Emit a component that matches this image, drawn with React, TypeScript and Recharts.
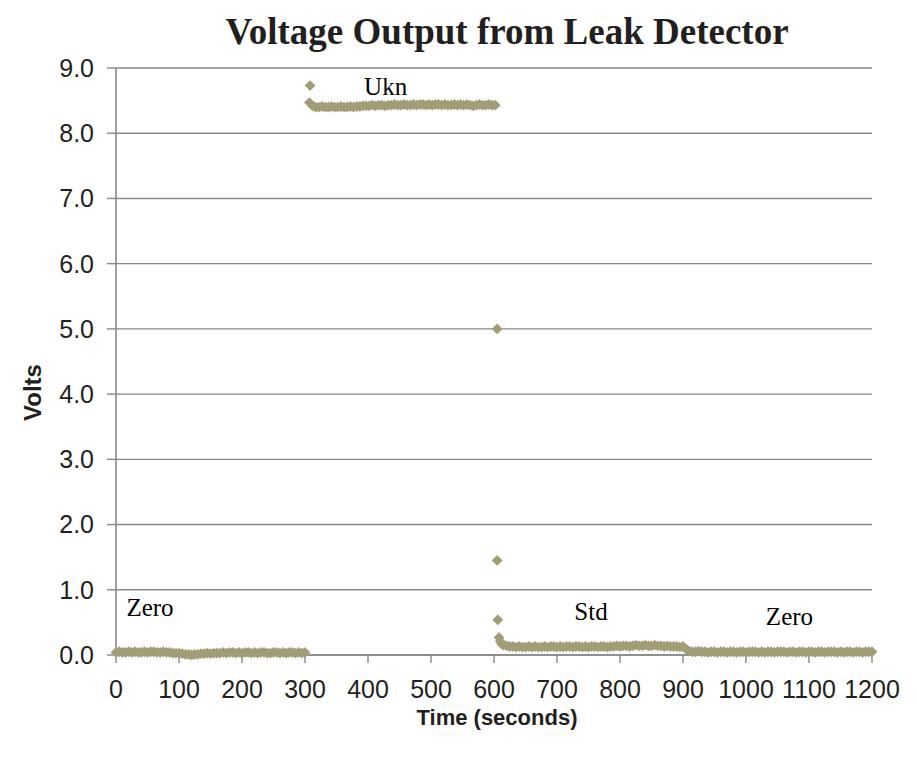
import React from 'react';
import { ScatterChart, Scatter, XAxis, YAxis, CartesianGrid } from 'recharts';

// sampling interval (s) of the logged readings
const SAMPLE_STEP = 5;

// first zero gas run, 0 - 300 s
const ZERO_A_START = 0;
const zeroA = [
  0.04, 0.05, 0.04, 0.04, 0.05, 0.04, 0.05, 0.04, 0.04, 0.05,
  0.04, 0.05, 0.05, 0.04, 0.04, 0.05, 0.04, 0.04, 0.03, 0.03,
  0.03, 0.02, 0.01, 0.01, 0.0, 0.01, 0.01, 0.02, 0.02, 0.03,
  0.02, 0.03, 0.03, 0.03, 0.04, 0.03, 0.04, 0.04, 0.03, 0.04,
  0.03, 0.04, 0.04, 0.03, 0.04, 0.03, 0.04, 0.04, 0.03, 0.03,
  0.04, 0.04, 0.03, 0.04, 0.03, 0.04, 0.04, 0.03, 0.04, 0.03,
  0.04,
];

// unknown sample, ~307 - 602 s
const UKN_START = 307;
const ukn = [
  8.47, 8.42, 8.40, 8.40, 8.41, 8.40, 8.40, 8.41, 8.40, 8.40,
  8.41, 8.40, 8.40, 8.41, 8.40, 8.41, 8.41, 8.42, 8.42, 8.42,
  8.43, 8.42, 8.43, 8.43, 8.42, 8.43, 8.43, 8.44, 8.43, 8.43,
  8.44, 8.43, 8.43, 8.44, 8.43, 8.44, 8.44, 8.43, 8.44, 8.43,
  8.44, 8.44, 8.43, 8.44, 8.43, 8.43, 8.44, 8.43, 8.44, 8.43,
  8.44, 8.43, 8.42, 8.43, 8.44, 8.43, 8.43, 8.44, 8.43, 8.43,
];

// standard, 615 - 905 s
const STD_START = 615;
const std = [
  0.15, 0.14, 0.13, 0.13, 0.12, 0.13, 0.12, 0.12, 0.13, 0.12,
  0.13, 0.12, 0.12, 0.13, 0.12, 0.13, 0.13, 0.12, 0.13, 0.12,
  0.13, 0.13, 0.12, 0.13, 0.13, 0.12, 0.13, 0.12, 0.13, 0.13,
  0.12, 0.13, 0.13, 0.12, 0.13, 0.13, 0.14, 0.13, 0.14, 0.14,
  0.13, 0.14, 0.15, 0.14, 0.14, 0.15, 0.14, 0.14, 0.15, 0.14,
  0.14, 0.13, 0.14, 0.13, 0.13, 0.13, 0.12, 0.13, 0.09,
];

// second zero run, 910 - 1200 s
const ZERO_B_START = 910;
const zeroB = [
  0.06, 0.05, 0.05, 0.06, 0.05, 0.05, 0.04, 0.05, 0.05, 0.04,
  0.05, 0.05, 0.04, 0.05, 0.05, 0.04, 0.05, 0.05, 0.04, 0.05,
  0.05, 0.05, 0.04, 0.05, 0.04, 0.05, 0.05, 0.04, 0.05, 0.05,
  0.05, 0.04, 0.05, 0.05, 0.04, 0.05, 0.05, 0.04, 0.05, 0.05,
  0.04, 0.05, 0.05, 0.04, 0.05, 0.05, 0.05, 0.04, 0.05, 0.04,
  0.05, 0.05, 0.04, 0.05, 0.05, 0.04, 0.05, 0.05, 0.05,
];

// odd readings while switching gases
const spikeTimes = [308, 605, 605, 606, 608, 610, 612];
const spikeVolts = [8.73, 5.0, 1.45, 0.54, 0.27, 0.21, 0.17];

const xTicks = [0, 100, 200, 300, 400, 500, 600, 700, 800, 900, 1000, 1100, 1200];
const yTicks = [0, 1, 2, 3, 4, 5, 6, 7, 8, 9];

const noteTimes = [54, 428, 754, 1069];
const noteVolts = [0.73, 8.71, 0.67, 0.59];
const noteTexts = ['Zero', 'Ukn', 'Std', 'Zero'];

const MARKER = '#A29D76';
const GRID = '#888888';
const INK = '#231F20';

const run = (start: number, vals: number[]) =>
  vals.map((v, i) => ({ t: start + i * SAMPLE_STEP, v }));

const points = [
  ...run(ZERO_A_START, zeroA),
  ...run(UKN_START, ukn),
  ...run(STD_START, std),
  ...run(ZERO_B_START, zeroB),
  ...spikeTimes.map((t, i) => ({ t, v: spikeVolts[i] })),
];

const notes = noteTimes.map((t, i) => ({ t, v: noteVolts[i], text: noteTexts[i] }));

const Diamond = (props: any) => {
  const { cx, cy } = props;
  const r = 5.4;
  return (
    <polygon
      points={`${cx},${cy - r} ${cx + r},${cy} ${cx},${cy + r} ${cx - r},${cy}`}
      fill={MARKER}
    />
  );
};

const Note = (props: any) => {
  const { cx, cy, payload } = props;
  return (
    <text
      x={cx}
      y={cy}
      textAnchor="middle"
      dominantBaseline="central"
      fontFamily="'Liberation Serif', serif"
      fontSize={25}
      fill="#000"
    >
      {payload.text}
    </text>
  );
};

const VoltsLabel = (props: any) => {
  const { viewBox } = props;
  const cx = viewBox.x + 24;
  const cy = viewBox.y + viewBox.height / 2 + 31;
  return (
    <text
      x={cx}
      y={cy}
      transform={`rotate(-90 ${cx} ${cy})`}
      textAnchor="middle"
      dominantBaseline="central"
      fontFamily="'Liberation Sans', Arial, sans-serif"
      fontWeight="bold"
      fontSize={24}
      fill={INK}
    >
      Volts
    </text>
  );
};

const TimeLabel = (props: any) => {
  const { viewBox } = props;
  const cx = viewBox.x + viewBox.width / 2 + 3;
  const cy = viewBox.y + 62;
  return (
    <text
      x={cx}
      y={cy}
      textAnchor="middle"
      dominantBaseline="central"
      fontFamily="'Liberation Sans', Arial, sans-serif"
      fontWeight="bold"
      fontSize={22}
      fill={INK}
    >
      Time (seconds)
    </text>
  );
};

const tickStyle = { fontFamily: "'Liberation Sans', Arial, sans-serif", fontSize: 25, fill: INK };

export default function App() {
  return (
    <div style={{ position: 'relative', width: 901, height: 741 }}>
      <div
        style={{
          position: 'absolute',
          top: 3,
          left: 0,
          width: 998,
          textAlign: 'center',
          fontFamily: "'Liberation Serif', serif",
          fontWeight: 'bold',
          fontSize: 37,
          lineHeight: '42px',
          color: INK,
        }}
      >
        Voltage Output from Leak Detector
      </div>
      <ScatterChart width={901} height={741} margin={{ top: 60, right: 37, bottom: 0, left: 0 }}>
        <CartesianGrid horizontal vertical={false} stroke={GRID} strokeWidth={1.4} />
        <XAxis
          dataKey="t"
          type="number"
          domain={[0, 1200]}
          ticks={xTicks}
          interval={0}
          height={94}
          tickSize={8}
          tickMargin={17}
          tick={tickStyle}
          axisLine={{ stroke: GRID, strokeWidth: 1.6 }}
          tickLine={{ stroke: GRID, strokeWidth: 1.4 }}
          label={<TimeLabel />}
        />
        <YAxis
          dataKey="v"
          type="number"
          domain={[0, 9]}
          ticks={yTicks}
          interval={0}
          width={108}
          tickSize={9}
          tickMargin={13}
          tickFormatter={(v: number) => v.toFixed(1)}
          tick={tickStyle}
          axisLine={{ stroke: GRID, strokeWidth: 1.6 }}
          tickLine={{ stroke: GRID, strokeWidth: 1.4 }}
          label={<VoltsLabel />}
        />
        <Scatter data={points} shape={<Diamond />} isAnimationActive={false} />
        <Scatter data={notes} shape={<Note />} isAnimationActive={false} />
      </ScatterChart>
    </div>
  );
}
